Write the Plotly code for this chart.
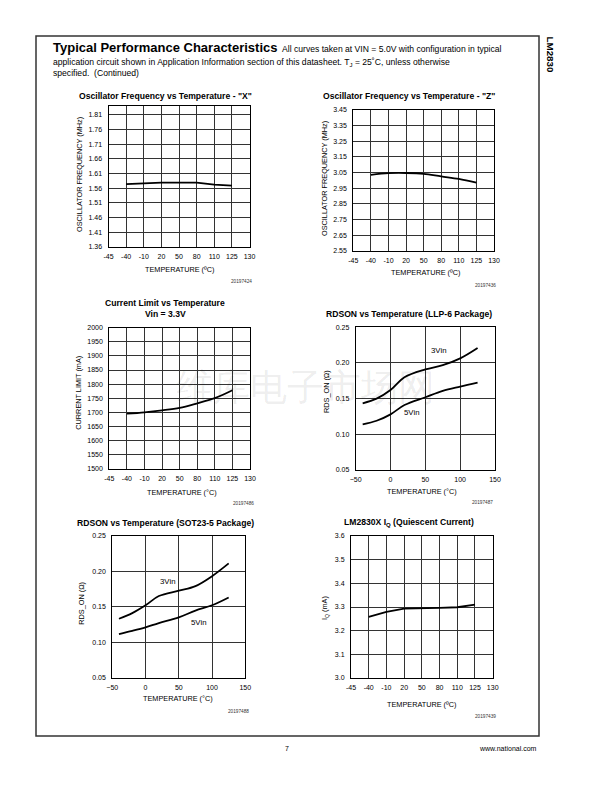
import plotly.graph_objects as go

# ---------------- data ----------------
temp_categories = ["-45", "-40", "-10", "20", "50", "80", "110", "125", "130"]
meas_temps = ["-40", "-10", "20", "50", "80", "110", "125"]

osc_x_freq = [1.574, 1.577, 1.579, 1.579, 1.579, 1.572, 1.569]
osc_z_freq = [3.035, 3.046, 3.047, 3.042, 3.025, 3.009, 2.985]
current_limit = [1695, 1700, 1707, 1716, 1732, 1750, 1778]
iq_current = [3.258, 3.279, 3.293, 3.293, 3.296, 3.299, 3.310]

rds_temps = [-40, -20, 0, 20, 50, 75, 100, 125]
llp_3vin = [0.1435, 0.150, 0.162, 0.180, 0.191, 0.197, 0.2065, 0.221]
llp_5vin = [0.114, 0.119, 0.128, 0.141, 0.152, 0.161, 0.167, 0.1725]
sot_3vin = [0.133, 0.141, 0.152, 0.165, 0.1725, 0.179, 0.193, 0.211]
sot_5vin = [0.1115, 0.116, 0.121, 0.127, 0.135, 0.1445, 0.152, 0.163]

osc_x_ticks = [1.36, 1.41, 1.46, 1.51, 1.56, 1.61, 1.66, 1.71, 1.76, 1.81]
osc_z_ticks = [2.55, 2.65, 2.75, 2.85, 2.95, 3.05, 3.15, 3.25, 3.35, 3.45]

# page is 612x792; the html body adds an 8px margin around the plot div
OFF = 8
W, H = 612 - OFF, 792 - OFF
FONT = "Liberation Sans, Arial, sans-serif"


def px(x):
    return (x - OFF) / W


def py(y):
    return 1 - (y - OFF) / H


fig = go.Figure()

line_style = dict(color="black", width=1.8)
spline_style = dict(color="black", width=1.8, shape="spline")

fig.add_trace(go.Scatter(x=meas_temps, y=osc_x_freq, mode="lines", line=line_style,
                         xaxis="x", yaxis="y", showlegend=False))
fig.add_trace(go.Scatter(x=meas_temps, y=osc_z_freq, mode="lines", line=spline_style,
                         xaxis="x2", yaxis="y2", showlegend=False))
fig.add_trace(go.Scatter(x=meas_temps, y=current_limit, mode="lines", line=spline_style,
                         xaxis="x3", yaxis="y3", showlegend=False))
fig.add_trace(go.Scatter(x=rds_temps, y=llp_3vin, mode="lines", line=spline_style,
                         xaxis="x4", yaxis="y4", showlegend=False))
fig.add_trace(go.Scatter(x=rds_temps, y=llp_5vin, mode="lines", line=spline_style,
                         xaxis="x4", yaxis="y4", showlegend=False))
fig.add_trace(go.Scatter(x=rds_temps, y=sot_3vin, mode="lines", line=spline_style,
                         xaxis="x5", yaxis="y5", showlegend=False))
fig.add_trace(go.Scatter(x=rds_temps, y=sot_5vin, mode="lines", line=spline_style,
                         xaxis="x5", yaxis="y5", showlegend=False))
fig.add_trace(go.Scatter(x=meas_temps, y=iq_current, mode="lines", line=line_style,
                         xaxis="x6", yaxis="y6", showlegend=False))

axis_common = dict(showline=True, mirror=True, linecolor="black", linewidth=1,
                   showgrid=True, gridcolor="#333333", gridwidth=1, zeroline=False,
                   ticks="", tickfont=dict(family=FONT, size=7, color="black"),
                   fixedrange=True, automargin=False)


def cat_xaxis(anchor, x0, x1):
    return dict(axis_common, type="category", categoryorder="array",
                categoryarray=temp_categories, range=[0, 8],
                domain=[px(x0), px(x1)], anchor=anchor, ticklabelstandoff=3)


def lin_xaxis(anchor, x0, x1):
    return dict(axis_common, range=[-50, 150], dtick=50, tick0=0,
                domain=[px(x0), px(x1)], anchor=anchor, ticklabelstandoff=3)


def yaxis(anchor, y0, y1, rng, **kw):
    d = dict(axis_common, range=rng, domain=[py(y1), py(y0)], anchor=anchor,
             ticklabelstandoff=4)
    d.update(kw)
    return d


fig.update_layout(
    template="none",
    width=W, height=H, margin=dict(l=0, r=0, t=0, b=0, pad=0, autoexpand=False),
    paper_bgcolor="white", plot_bgcolor="white", showlegend=False,
    font=dict(family=FONT, color="black"),
    xaxis=cat_xaxis("y", 108.5, 249.5),
    yaxis=yaxis("x", 106, 247, [1.36, 1.84], tickvals=osc_x_ticks,
                ticktext=[f"{v:.2f}" for v in osc_x_ticks]),
    xaxis2=cat_xaxis("y2", 353.3, 494),
    yaxis2=yaxis("x2", 110, 250.7, [2.55, 3.45], tickvals=osc_z_ticks,
                 ticktext=[f"{v:.2f}" for v in osc_z_ticks]),
    xaxis3=cat_xaxis("y3", 109.3, 250),
    yaxis3=yaxis("x3", 327.7, 468.7, [1500, 2000], dtick=50, tick0=1500),
    xaxis4=lin_xaxis("y4", 355.7, 495),
    yaxis4=yaxis("x4", 327.3, 470, [0.05, 0.25], dtick=0.05, tick0=0.05, tickformat=".2f"),
    xaxis5=lin_xaxis("y5", 112.3, 245.3),
    yaxis5=yaxis("x5", 535.7, 677.7, [0.05, 0.25], dtick=0.05, tick0=0.05, tickformat=".2f"),
    xaxis6=cat_xaxis("y6", 351, 492.7),
    yaxis6=yaxis("x6", 536, 678, [3.0, 3.6], dtick=0.1, tick0=3.0, tickformat=".1f"),
)

ann = []


def text(x, y, s, size=7, anchor="center", bold=False, color="black", angle=0, yanchor="middle"):
    ann.append(dict(x=px(x), y=py(y), xref="paper", yref="paper", text=(f"<b>{s}</b>" if bold else s),
                    showarrow=False, xanchor=anchor, yanchor=yanchor, textangle=angle,
                    font=dict(family=FONT, size=size, color=color)))


# watermark
text(305, 388, "维库电子市场网", size=37, color="rgba(0,0,0,0.08)")

# header
text(50.5, 48, "Typical Performance Characteristics", size=13, anchor="left", bold=True)
text(280, 49.5, "All curves taken at VIN = 5.0V with configuration in typical", size=8.6, anchor="left")
text(50.5, 62.5, "application circuit shown in Application Information section of this datasheet. T<sub>J</sub> = 25˚C, unless otherwise",
     size=8.6, anchor="left")
text(50.5, 73, "specified.  (Continued)", size=8.6, anchor="left")
text(549.5, 54, "LM2830", size=9.8, bold=True, angle=90)

# subplot titles
TS = 8.6
text(165, 96.5, "Oscillator Frequency vs Temperature - \"X\"", size=TS, bold=True)
text(409, 96, "Oscillator Frequency vs Temperature - \"Z\"", size=TS, bold=True)
text(165, 303.3, "Current Limit vs Temperature", size=TS, bold=True)
text(165, 313.5, "Vin = 3.3V", size=TS, bold=True)
text(409, 314.3, "RDSON vs Temperature (LLP-6 Package)", size=TS, bold=True)
text(165, 522.7, "RDSON vs Temperature (SOT23-5 Package)", size=TS, bold=True)
text(409, 522.7, "LM2830X I<sub>Q</sub> (Quiescent Current)", size=TS, bold=True)

# x titles
AS = 7.3
text(179.5, 270, "TEMPERATURE (ºC)", size=AS)
text(425.8, 272.7, "TEMPERATURE (ºC)", size=AS)
text(182, 492.7, "TEMPERATURE (°C)", size=AS)
text(421.7, 491, "TEMPERATURE (°C)", size=AS)
text(177.5, 698.3, "TEMPERATURE (°C)", size=AS)
text(422, 704.3, "TEMPERATURE (ºC)", size=AS)

# y titles
text(80, 175, "OSCILLATOR FREQUENCY (MHz)", size=AS, angle=-90)
text(324, 179, "OSCILLATOR FREQUENCY (MHz)", size=AS, angle=-90)
text(77.7, 393, "CURRENT LIMIT (mA)", size=AS, angle=-90)
text(326, 392, "RDS_ON (Ω)", size=AS, angle=-90)
text(80.7, 603, "RDS_ON (Ω)", size=AS, angle=-90)
text(325, 608, "I<sub>Q</sub> (mA)", size=AS, angle=-90)

# curve labels (data coordinates)
for xr, yr, x, y, s in [("x4", "y4", 68.7, 0.217, "3Vin"), ("x4", "y4", 29.4, 0.130, "5Vin"),
                        ("x5", "y5", 32.7, 0.185, "3Vin"), ("x5", "y5", 79.3, 0.128, "5Vin")]:
    ann.append(dict(x=x, y=y, xref=xr, yref=yr, text=s, showarrow=False,
                    font=dict(family=FONT, size=7.8, color="black")))

# figure ids
for x, y, s in [(254, 281.7, "20197424"), (498, 285, "20197436"), (255.7, 503, "20197486"),
                (495, 502.7, "20197487"), (250.7, 711.7, "20197488"), (498.3, 716, "20197439")]:
    text(x, y, s, size=4.7, anchor="right", color="#333333")

# footer
text(287, 748, "7", size=7)
text(539, 748, "www.national.com", size=7, anchor="right")

fig.update_layout(annotations=ann)

# page frame
fig.add_shape(type="rect", xref="paper", yref="paper", x0=px(36), x1=px(539), y0=py(736), y1=py(36),
              line=dict(color="#333333", width=1.5), layer="below")

fig.write_html("out.html")
